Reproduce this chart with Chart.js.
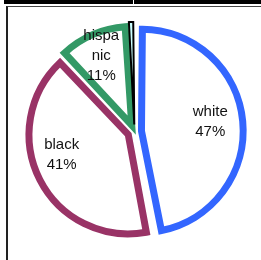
<!DOCTYPE html>
<html>
<head>
<meta charset="utf-8">
<script src="https://cdn.jsdelivr.net/npm/chart.js@4.4.1/dist/chart.umd.min.js"></script>
<style>
  html, body { margin: 0; padding: 0; background: #fff; }
  #wrap { position: relative; width: 261px; height: 260px; overflow: hidden; }
  #topBar { position: absolute; left: 4px; top: 0; width: 257px; height: 4px; background: #000; }
  #topGap { position: absolute; left: 133px; top: 0; width: 1px; height: 4px; background: #fff; }
  #frame { position: absolute; left: 6px; top: 6px; width: 270px; height: 270px;
           border-left: 2px solid #222; border-top: 1px solid #444; }
  #pie { position: absolute; left: 0; top: 0; }
</style>
</head>
<body>
<div id="wrap">
  <div id="topBar"></div>
  <div id="topGap"></div>
  <div id="frame"></div>
  <canvas id="pie" width="261" height="260"></canvas>
</div>
<script>
// slice data, clockwise from 12 o'clock
const categories = ["white", "black", "hispanic", "other"];
const shares = [47, 41, 11, 1];

const fills = ["#ffffff", "#ffffff", "#ffffff", "#ccffff"];
const borders = ["#3366ff", "#993366", "#339966", "#000000"];
const borderWidths = [7, 7, 7, 2];

const WRAP_CHARS = 5;   // label text wraps at this many characters
const LABEL_POS = 0.72; // label distance, fraction of radius
// small hand nudges (px) so the labels sit where the original put them
const labelNudge = [[0, -2], [-5, -11], [-3, -6], [0, 0]];

function wrapLabel(name) {
  const lines = [];
  for (let i = 0; i < name.length; i += WRAP_CHARS) lines.push(name.slice(i, i + WRAP_CHARS));
  return lines;
}

// draws "name / pct%" inside each slice
const sliceLabels = {
  id: "sliceLabels",
  afterDatasetsDraw(chart) {
    const ctx = chart.ctx;
    const meta = chart.getDatasetMeta(0);
    const total = shares.reduce((a, b) => a + b, 0);
    ctx.save();
    ctx.font = "15px 'Liberation Sans', Arial, sans-serif";
    ctx.fillStyle = "#111";
    ctx.textAlign = "center";
    ctx.textBaseline = "middle";
    meta.data.forEach((arc, i) => {
      const pct = Math.round((shares[i] / total) * 100);
      if (pct < 5) return;
      const { x, y, startAngle, endAngle, outerRadius } = arc.getProps(
        ["x", "y", "startAngle", "endAngle", "outerRadius"], true);
      const mid = (startAngle + endAngle) / 2;
      const shift = (arc.options.offset || 0) / 4;
      const d = shift + outerRadius * LABEL_POS;
      const cx = x + Math.cos(mid) * d + labelNudge[i][0];
      const cy = y + Math.sin(mid) * d + labelNudge[i][1];
      const lines = wrapLabel(categories[i]).concat([pct + "%"]);
      const lh = 20;
      const top = cy - ((lines.length - 1) * lh) / 2;
      lines.forEach((t, k) => ctx.fillText(t, cx, top + k * lh));
    });
    ctx.restore();
  },
};

new Chart(document.getElementById("pie"), {
  type: "pie",
  data: {
    labels: categories,
    datasets: [{
      data: shares,
      backgroundColor: fills,
      borderColor: borders,
      borderWidth: borderWidths,
      borderJoinStyle: "miter",
      offset: 28,
      hoverOffset: 0,
    }],
  },
  options: {
    responsive: false,
    animation: false,
    radius: 96,
    layout: { padding: { left: 8, right: 0, top: 3, bottom: 0 } },
    plugins: {
      legend: { display: false },
      tooltip: { enabled: false },
    },
    events: [],
  },
  plugins: [sliceLabels],
});
</script>
</body>
</html>
